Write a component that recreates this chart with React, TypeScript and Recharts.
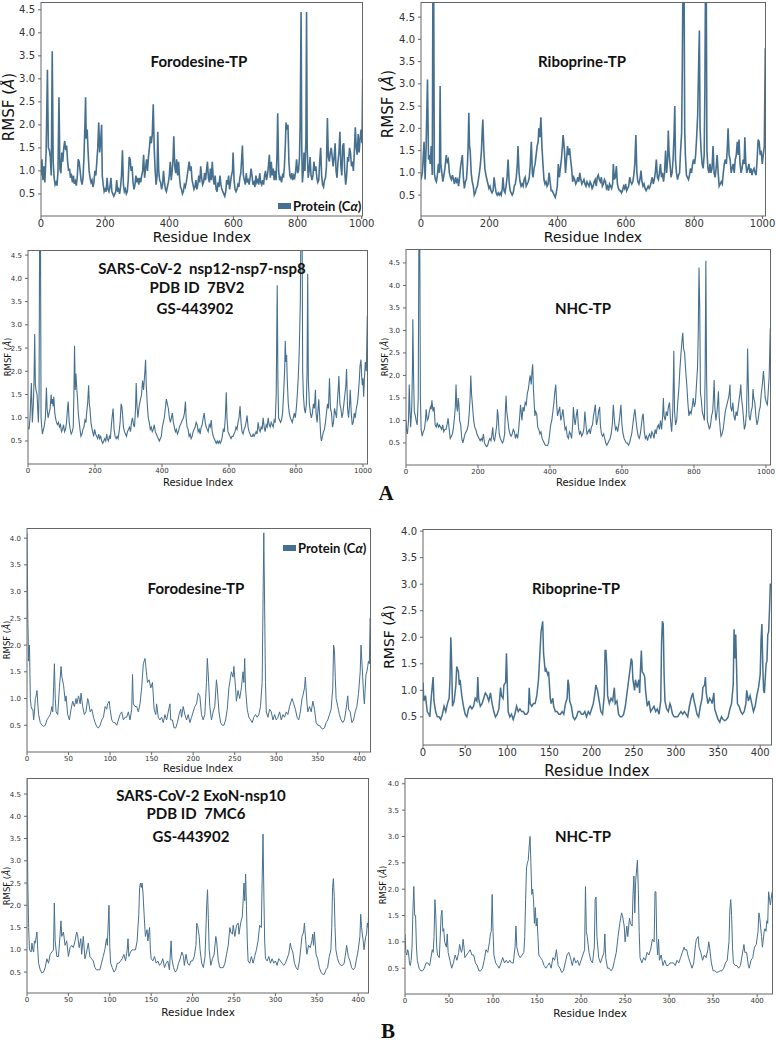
import React from "react";
import { LineChart, Line, XAxis, YAxis } from "recharts";

type Pt = [number, number];

const COLOR = "#46708f";

const TICKS_A_X = [0, 200, 400, 600, 800, 1000];
const TICKS_B_X = [0, 50, 100, 150, 200, 250, 300, 350, 400];
const TICKS_Y_45 = [0.5, 1.0, 1.5, 2.0, 2.5, 3.0, 3.5, 4.0, 4.5];
const TICKS_Y_40 = [0.5, 1.0, 1.5, 2.0, 2.5, 3.0, 3.5, 4.0];

// A: nsp12-nsp7-nsp8 complexes (values above the frame are clipped by the axis)
const A1_FORODESINE: Pt[] = [[0,0.9],[3,1.25],[6,0.8],[9,1.1],[12,0.75],[16,1.4],[20,3.2],[23,1.5],[26,1.45],[29,1.3],[32,0.9],[35,3.6],[38,1.2],[41,0.85],[44,0.7],[47,0.75],[50,0.68],[53,1.0],[56,2.6],[59,1.05],[62,0.95],[65,1.4],[68,1.2],[71,1.5],[74,1.65],[77,1.45],[80,1.55],[83,1.2],[86,1.0],[89,1.05],[92,0.85],[95,0.9],[98,0.75],[101,0.9],[104,0.72],[107,0.78],[110,0.68],[113,0.85],[116,1.25],[119,1.2],[122,1.0],[125,0.8],[128,0.7],[131,0.85],[134,1.3],[137,2.0],[139,2.6],[141,1.7],[144,1.9],[147,1.4],[150,1.0],[153,0.85],[156,0.75],[159,0.8],[162,0.65],[165,0.75],[168,1.0],[171,0.9],[174,1.2],[177,1.5],[180,2.05],[183,1.4],[186,1.65],[189,2.0],[191,0.9],[194,0.7],[197,0.55],[200,0.6],[203,0.55],[206,0.85],[209,0.6],[212,0.55],[215,0.65],[218,0.85],[221,0.55],[224,0.5],[227,0.45],[230,0.5],[233,0.55],[236,0.8],[239,0.55],[242,0.6],[245,0.5],[248,0.65],[251,0.9],[254,1.45],[257,0.7],[260,0.55],[263,0.6],[266,0.5],[269,0.55],[272,0.8],[275,1.3],[278,1.25],[281,1.0],[284,1.1],[287,0.75],[290,0.6],[293,0.7],[296,0.9],[299,0.75],[302,0.85],[305,0.7],[308,0.85],[311,0.75],[314,0.9],[317,1.0],[320,1.35],[323,0.85],[326,1.05],[329,1.25],[332,1.0],[335,1.3],[338,1.5],[341,1.75],[344,1.6],[347,1.8],[350,2.45],[353,1.5],[356,1.0],[359,0.7],[362,0.9],[364,1.85],[367,1.0],[370,0.8],[373,0.75],[376,0.6],[379,0.7],[382,1.0],[385,0.75],[388,0.6],[391,0.55],[394,0.65],[397,0.75],[400,0.9],[403,1.2],[406,0.8],[409,1.0],[412,1.3],[414,1.75],[417,1.1],[420,0.95],[423,1.25],[426,0.9],[429,1.2],[432,0.85],[435,0.65],[438,0.6],[441,0.5],[444,0.55],[447,0.7],[450,0.65],[453,0.75],[456,0.9],[459,1.05],[462,1.2],[465,1.0],[468,1.1],[471,0.8],[474,0.7],[477,0.6],[480,0.65],[483,0.8],[486,0.6],[489,0.7],[492,0.9],[495,0.75],[498,1.1],[501,0.85],[504,0.7],[507,0.75],[510,0.95],[513,0.8],[516,1.0],[519,1.2],[522,0.85],[525,0.75],[528,1.05],[531,0.8],[534,1.2],[537,0.85],[540,0.7],[543,0.9],[546,0.6],[549,0.55],[552,0.75],[555,0.65],[558,0.9],[561,0.7],[564,0.6],[567,0.55],[570,0.5],[573,0.45],[576,0.55],[579,0.8],[582,0.7],[585,0.9],[588,0.6],[591,0.75],[594,0.9],[597,1.0],[599,1.4],[602,0.8],[605,0.6],[608,0.55],[611,0.6],[614,0.7],[617,0.65],[620,0.85],[623,0.95],[626,1.3],[628,1.55],[631,0.9],[634,0.8],[637,0.7],[640,0.95],[643,0.75],[646,0.8],[649,0.7],[652,0.85],[655,1.05],[658,0.9],[661,0.7],[664,0.75],[667,0.65],[670,0.9],[673,0.75],[676,0.8],[679,0.7],[682,0.95],[685,0.75],[688,0.7],[691,0.8],[694,0.7],[697,0.9],[700,1.0],[703,0.8],[706,0.9],[709,1.1],[712,1.35],[715,0.85],[718,1.2],[721,0.9],[724,1.05],[727,0.8],[730,1.0],[733,0.8],[736,1.4],[738,2.25],[741,1.0],[744,0.8],[747,0.85],[750,0.75],[753,0.9],[756,0.85],[759,1.1],[762,1.6],[764,2.05],[767,1.9],[770,2.0],[773,1.2],[776,0.9],[779,0.85],[782,0.95],[785,0.8],[788,0.9],[791,0.85],[794,1.0],[797,1.25],[800,0.95],[803,1.0],[806,1.3],[808,2.0],[811,4.45],[813,1.5],[815,0.75],[818,1.0],[820,1.4],[823,1.0],[826,1.7],[828,4.45],[830,1.5],[833,0.85],[836,1.0],[839,1.3],[842,0.9],[845,0.8],[848,0.9],[851,1.2],[854,1.0],[857,1.1],[860,0.85],[863,0.75],[866,0.8],[869,1.2],[872,1.5],[875,0.9],[878,0.7],[881,0.65],[884,0.8],[887,0.85],[890,1.1],[893,2.15],[896,1.3],[899,1.2],[902,1.4],[905,1.5],[908,1.3],[911,1.1],[914,1.3],[917,1.6],[920,1.0],[923,0.85],[926,1.2],[929,1.4],[932,1.85],[935,1.1],[938,0.9],[941,1.55],[944,1.6],[947,1.0],[950,0.7],[953,0.9],[956,1.3],[959,1.2],[962,1.5],[965,1.4],[968,1.1],[971,1.2],[974,1.0],[977,1.4],[980,1.95],[983,1.5],[986,1.35],[989,1.8],[992,1.4],[995,1.7],[998,1.9],[1001,1.6],[1003,3.0]];

const A2_RIBOPRINE: Pt[] = [[0,0.85],[4,1.0],[9,1.7],[12,0.85],[15,1.6],[19,3.1],[22,1.3],[25,1.4],[27,1.2],[30,1.6],[33,0.95],[35,5.5],[37,5.5],[39,1.0],[42,0.85],[45,0.8],[48,0.95],[51,1.2],[54,1.0],[56,2.95],[58,1.2],[61,1.0],[64,0.8],[67,0.95],[70,1.1],[74,1.4],[77,1.25],[80,1.3],[83,1.0],[86,0.9],[89,0.85],[92,0.95],[95,0.85],[98,0.75],[101,0.9],[104,0.8],[107,0.85],[110,0.7],[113,0.9],[116,1.15],[119,1.3],[121,1.4],[124,0.9],[127,0.65],[130,0.8],[133,0.85],[136,1.2],[138,1.6],[140,2.35],[142,1.6],[144,1.5],[147,1.0],[150,0.8],[153,0.7],[156,0.5],[159,0.55],[162,0.65],[165,0.7],[168,0.85],[171,1.0],[174,1.2],[177,1.5],[179,1.9],[181,2.2],[184,1.5],[187,1.1],[190,0.95],[193,0.85],[196,0.75],[199,0.65],[202,0.7],[205,0.6],[208,0.55],[211,0.6],[214,0.9],[217,0.7],[220,0.55],[223,0.5],[226,0.55],[229,0.5],[232,0.55],[235,0.5],[238,0.65],[240,0.9],[243,0.6],[246,0.55],[249,0.7],[252,0.9],[255,1.3],[258,0.8],[261,0.6],[264,0.55],[267,0.5],[270,0.55],[273,0.7],[276,0.75],[279,0.9],[282,1.2],[284,1.6],[287,1.0],[290,0.8],[293,0.7],[296,0.75],[299,0.7],[302,0.85],[305,0.9],[308,0.7],[311,0.75],[314,0.8],[317,0.9],[320,1.2],[323,1.7],[326,1.0],[328,0.9],[331,1.1],[334,1.2],[337,1.4],[340,1.6],[343,1.7],[345,2.0],[348,1.8],[351,2.25],[354,1.6],[357,1.2],[360,0.85],[363,0.75],[366,0.8],[369,0.7],[372,0.75],[375,1.0],[378,0.8],[381,0.6],[384,0.6],[387,0.55],[390,0.5],[393,0.45],[396,0.55],[399,0.7],[402,1.2],[405,0.9],[408,1.1],[411,1.3],[414,1.6],[416,1.85],[418,1.7],[420,1.5],[423,1.0],[426,1.3],[429,1.6],[432,1.4],[435,1.55],[438,1.3],[441,1.1],[444,0.8],[447,0.9],[450,0.85],[453,0.75],[456,0.8],[459,0.9],[462,0.8],[465,1.0],[468,0.85],[471,0.75],[474,0.8],[477,0.85],[480,0.75],[483,0.7],[486,0.8],[489,0.75],[492,0.7],[495,0.8],[498,0.75],[501,0.65],[504,0.7],[507,0.8],[510,0.85],[513,0.7],[516,0.9],[519,0.95],[522,0.85],[525,0.8],[528,0.9],[531,0.7],[534,0.75],[537,0.85],[540,0.8],[543,0.65],[546,0.7],[549,0.6],[552,0.75],[555,0.7],[558,0.65],[561,0.75],[563,1.2],[566,0.85],[569,0.9],[572,1.15],[575,0.75],[578,0.65],[581,0.6],[584,0.6],[587,0.55],[590,0.6],[593,0.7],[596,0.65],[599,0.75],[602,0.6],[605,0.65],[608,0.7],[611,0.9],[614,0.8],[617,0.75],[620,0.8],[623,0.95],[626,1.2],[629,1.85],[632,1.0],[635,0.8],[638,0.75],[641,0.85],[644,1.05],[647,0.8],[650,0.7],[653,0.75],[656,0.65],[659,0.6],[662,0.65],[665,0.7],[668,0.65],[671,0.7],[674,0.8],[677,0.9],[680,0.75],[683,0.85],[686,1.0],[689,1.3],[692,0.9],[695,0.85],[698,1.0],[701,1.2],[704,0.9],[707,1.0],[710,0.8],[713,1.0],[716,1.5],[719,1.0],[722,1.3],[724,1.95],[726,1.5],[729,1.2],[732,0.9],[735,1.0],[738,1.3],[741,1.9],[743,2.5],[745,1.3],[748,1.0],[751,0.85],[754,0.95],[757,1.0],[760,1.5],[763,1.9],[765,3.4],[767,5.5],[770,5.5],[772,2.0],[774,1.4],[777,0.95],[780,0.9],[783,0.85],[786,0.95],[789,1.1],[792,1.0],[795,1.2],[798,1.3],[801,1.2],[804,1.4],[807,1.8],[810,2.3],[813,3.5],[815,4.2],[817,2.0],[820,1.5],[823,1.2],[826,1.1],[829,1.4],[831,2.8],[833,5.5],[835,5.5],[837,1.5],[840,1.1],[843,1.0],[846,1.2],[849,1.0],[852,1.1],[855,1.6],[858,1.0],[861,0.9],[864,1.1],[867,1.4],[870,1.0],[873,0.7],[876,0.75],[879,0.8],[882,0.75],[885,1.0],[888,1.2],[891,1.3],[894,1.2],[897,1.6],[899,2.0],[902,1.4],[905,1.3],[908,1.0],[911,1.1],[914,1.2],[917,1.0],[920,1.3],[923,1.4],[926,1.7],[929,1.4],[931,1.75],[934,1.2],[937,1.0],[940,1.1],[943,1.3],[946,1.2],[948,1.8],[951,1.2],[954,1.0],[957,1.1],[960,1.2],[963,1.0],[966,1.1],[969,0.95],[972,1.05],[975,1.1],[978,1.0],[981,0.95],[984,1.3],[987,1.75],[990,1.7],[993,1.4],[996,1.5],[999,1.2],[1002,1.4],[1005,1.6],[1008,3.8]];

const A3_GS443902: Pt[] = [[0,0.8],[3,0.75],[6,1.0],[10,1.75],[13,0.9],[16,1.3],[18,1.8],[20,2.8],[22,1.7],[24,1.6],[27,1.5],[29,1.2],[31,0.9],[33,1.5],[35,5.5],[37,5.5],[39,1.0],[41,0.8],[43,0.65],[46,0.75],[48,0.8],[50,0.9],[52,1.0],[55,1.65],[57,1.2],[60,1.0],[63,1.1],[66,1.2],[69,1.5],[71,1.3],[73,1.4],[75,1.25],[77,1.45],[80,1.1],[82,1.0],[85,0.9],[88,0.85],[91,0.9],[94,0.8],[97,0.85],[100,0.7],[103,0.75],[106,0.85],[109,0.7],[112,0.75],[115,0.9],[118,1.2],[120,1.35],[123,0.9],[126,0.75],[129,0.65],[132,0.7],[135,0.8],[137,1.5],[139,2.55],[141,1.6],[143,1.95],[145,1.7],[148,1.4],[150,1.1],[153,0.9],[156,0.7],[158,0.6],[161,0.65],[164,0.75],[167,0.8],[170,0.95],[173,0.9],[175,1.1],[178,1.3],[181,1.7],[183,1.3],[185,1.2],[188,0.9],[190,0.8],[193,0.7],[196,0.6],[199,0.75],[202,0.65],[205,0.6],[208,0.55],[211,0.65],[214,0.55],[217,0.6],[220,0.5],[223,0.45],[226,0.5],[229,0.55],[232,0.5],[235,0.65],[237,0.55],[240,0.5],[243,0.6],[246,0.55],[249,0.85],[251,1.0],[254,1.2],[257,0.75],[260,0.6],[263,0.55],[266,0.6],[269,0.55],[272,0.7],[275,0.9],[278,1.3],[280,1.25],[282,1.1],[285,0.8],[288,0.7],[291,0.65],[294,0.6],[297,0.7],[300,0.75],[303,0.8],[306,0.7],[309,0.9],[312,1.0],[315,0.85],[318,0.8],[321,1.2],[323,1.75],[325,1.3],[328,1.0],[331,1.2],[333,1.3],[336,1.4],[339,1.5],[342,1.8],[345,1.6],[347,1.8],[349,2.0],[351,2.25],[353,1.7],[356,1.3],[359,1.0],[362,0.9],[365,0.75],[368,0.8],[371,0.7],[374,0.75],[377,0.85],[380,0.7],[383,0.65],[386,0.6],[389,0.55],[392,0.5],[395,0.55],[398,0.6],[401,0.8],[404,0.9],[407,1.0],[410,1.2],[413,1.4],[416,1.3],[419,1.2],[422,1.0],[425,0.9],[428,1.0],[431,1.1],[434,0.9],[437,0.8],[440,0.7],[443,0.75],[446,0.65],[449,0.7],[452,0.8],[455,0.85],[458,0.9],[461,0.95],[464,1.0],[467,1.1],[470,1.35],[472,1.0],[475,0.8],[478,0.75],[481,0.6],[484,0.65],[487,0.55],[490,0.6],[493,0.7],[496,0.75],[499,0.8],[502,0.9],[505,0.85],[508,0.7],[511,0.75],[514,0.65],[517,0.8],[520,0.85],[523,1.0],[526,1.1],[529,0.9],[532,0.8],[535,0.75],[538,0.7],[541,0.85],[544,0.8],[547,0.95],[550,0.7],[553,0.6],[556,0.55],[559,0.5],[562,0.45],[565,0.5],[568,0.45],[571,0.5],[574,0.45],[577,0.5],[580,0.6],[583,0.75],[586,0.7],[589,1.0],[592,1.55],[594,1.0],[597,0.7],[600,0.65],[603,0.6],[606,0.55],[609,0.6],[612,0.6],[615,0.65],[618,0.7],[621,0.8],[624,0.75],[627,0.9],[630,1.0],[633,1.25],[636,0.9],[639,0.7],[642,0.65],[645,0.75],[648,0.8],[651,0.9],[654,1.05],[657,0.8],[660,0.7],[663,0.65],[666,0.6],[669,0.6],[672,0.65],[675,0.6],[678,0.65],[681,0.7],[684,0.65],[687,0.9],[690,0.75],[693,0.7],[696,0.8],[699,0.75],[702,1.0],[705,0.8],[708,0.7],[711,0.85],[714,0.8],[717,1.0],[720,0.85],[723,0.8],[726,0.9],[729,0.85],[732,0.8],[735,0.95],[738,0.9],[741,1.5],[744,3.85],[746,1.8],[748,1.0],[751,0.95],[754,0.9],[757,0.95],[760,1.1],[763,1.5],[766,2.0],[768,2.65],[770,2.2],[772,2.35],[774,1.8],[777,1.3],[780,1.1],[783,1.0],[786,0.95],[789,0.9],[792,1.0],[795,1.1],[798,1.0],[801,1.2],[804,1.5],[807,1.9],[810,2.5],[813,3.5],[815,5.5],[818,5.5],[820,2.0],[822,1.5],[825,1.2],[828,1.1],[831,1.3],[833,2.0],[835,4.1],[837,1.8],[840,1.3],[843,1.1],[846,1.0],[849,1.1],[852,1.3],[855,1.2],[858,1.6],[860,1.1],[863,0.9],[866,1.2],[868,1.4],[871,1.0],[874,0.6],[876,0.5],[879,0.6],[882,0.7],[885,0.75],[888,0.9],[891,1.1],[894,1.3],[897,1.2],[900,1.85],[903,1.2],[906,1.1],[909,0.8],[912,0.9],[915,1.2],[918,1.1],[921,1.0],[924,1.4],[926,1.6],[928,1.9],[931,1.3],[934,1.2],[937,1.0],[940,1.1],[943,1.3],[946,1.5],[949,1.7],[951,2.05],[954,1.2],[957,1.0],[960,1.3],[962,1.6],[965,1.1],[968,0.85],[971,0.9],[974,1.1],[977,1.0],[980,1.2],[983,1.3],[986,1.5],[989,1.8],[991,2.1],[994,2.25],[996,1.9],[998,1.7],[1000,1.85],[1002,1.45],[1004,1.8],[1007,2.2],[1010,2.0],[1013,3.2]];

const A4_NHC: Pt[] = [[0,1.0],[2,0.75],[4,0.7],[7,1.0],[9,1.8],[11,1.2],[13,0.85],[16,1.3],[18,2.2],[19,3.25],[21,2.0],[23,1.2],[26,1.1],[28,1.0],[31,0.9],[34,1.5],[36,5.5],[38,5.5],[40,1.5],[42,0.8],[45,0.65],[48,0.75],[51,0.8],[54,1.0],[56,1.25],[59,1.0],[62,1.05],[65,1.2],[68,1.3],[70,1.25],[72,1.45],[75,1.2],[78,1.3],[81,0.9],[84,0.85],[87,0.95],[90,0.85],[93,0.9],[96,0.85],[99,0.8],[102,0.9],[105,0.75],[108,0.8],[111,0.8],[114,0.9],[117,1.05],[120,0.8],[123,0.6],[126,0.65],[129,0.7],[132,0.85],[135,1.1],[137,1.3],[139,1.8],[141,1.3],[143,1.2],[145,1.5],[147,1.35],[149,1.0],[152,0.9],[155,0.6],[158,0.5],[161,0.6],[164,0.7],[167,0.75],[170,0.8],[173,0.9],[176,1.2],[178,1.5],[180,2.0],[182,1.6],[185,1.3],[188,1.0],[191,0.85],[194,0.8],[197,0.7],[200,0.65],[203,0.6],[206,0.55],[209,0.6],[212,0.55],[215,0.7],[218,0.5],[221,0.45],[224,0.42],[227,0.45],[230,0.55],[233,0.6],[236,0.55],[239,0.7],[241,0.85],[243,0.6],[246,0.55],[249,0.7],[252,0.9],[254,1.25],[256,1.1],[259,0.7],[262,0.6],[265,0.55],[268,0.5],[271,0.55],[274,0.7],[276,1.2],[278,1.55],[280,1.2],[283,1.0],[286,0.8],[289,0.7],[292,0.65],[295,0.7],[298,0.8],[301,0.75],[304,0.6],[307,0.7],[310,0.6],[313,0.8],[316,1.1],[318,1.35],[320,1.2],[322,1.0],[325,1.3],[328,1.2],[331,1.4],[334,1.35],[337,1.6],[340,1.7],[343,1.9],[345,2.0],[348,1.8],[350,2.1],[352,2.25],[354,1.7],[356,1.4],[358,1.1],[360,1.2],[363,1.15],[366,0.85],[369,0.8],[372,0.7],[375,0.75],[378,0.6],[381,0.55],[384,0.5],[387,0.45],[390,0.45],[393,0.44],[396,0.5],[399,0.7],[402,0.9],[405,1.0],[408,1.2],[411,1.4],[413,1.6],[416,1.8],[419,1.3],[421,1.1],[424,1.2],[427,1.3],[430,1.0],[433,1.1],[436,1.25],[439,1.0],[442,0.8],[445,0.85],[448,0.65],[451,0.6],[454,0.75],[457,0.7],[460,0.6],[463,0.9],[465,1.3],[468,1.0],[470,0.9],[473,1.1],[476,1.25],[479,0.85],[482,0.7],[485,0.75],[488,0.65],[491,0.7],[494,0.8],[497,1.2],[500,0.9],[503,0.7],[506,0.75],[509,0.8],[512,0.7],[515,0.85],[518,0.9],[521,1.1],[524,1.25],[526,1.35],[529,0.9],[532,1.0],[535,1.2],[538,1.3],[540,0.9],[543,0.7],[546,0.65],[549,0.7],[552,0.6],[555,0.5],[558,0.45],[561,0.5],[564,0.55],[567,0.6],[570,0.7],[573,0.9],[576,1.35],[579,1.0],[582,0.8],[585,0.85],[588,0.75],[591,0.9],[594,1.1],[597,1.35],[600,0.9],[603,0.7],[606,0.6],[609,0.55],[612,0.5],[615,0.5],[618,0.45],[621,0.5],[624,0.6],[627,0.7],[630,0.9],[633,1.1],[636,1.25],[639,1.0],[642,0.8],[645,0.65],[648,0.6],[651,0.7],[654,0.9],[657,1.1],[659,1.15],[662,0.75],[665,0.6],[668,0.65],[671,0.55],[674,0.65],[677,0.7],[680,0.6],[683,0.75],[686,0.7],[689,0.6],[692,0.8],[695,0.7],[698,0.85],[701,0.9],[704,0.8],[707,1.0],[710,0.8],[713,1.1],[715,1.5],[717,1.1],[720,1.0],[723,1.2],[726,1.1],[729,1.3],[732,1.4],[735,1.0],[738,0.75],[741,1.2],[743,2.0],[744,2.55],[746,1.2],[749,0.9],[752,1.0],[755,1.4],[758,1.7],[761,2.15],[764,2.5],[767,2.8],[769,2.95],[771,2.6],[774,2.5],[777,2.1],[780,1.8],[783,1.4],[786,1.1],[789,1.2],[792,1.15],[795,1.3],[798,1.5],[801,1.3],[804,1.4],[807,1.8],[810,2.2],[812,3.0],[814,4.4],[816,3.5],[818,1.6],[820,1.5],[823,1.2],[826,1.1],[829,1.0],[831,2.0],[833,4.55],[835,2.0],[837,1.0],[840,0.9],[843,0.8],[846,0.9],[849,1.1],[852,1.2],[854,1.5],[856,1.9],[858,1.3],[861,1.0],[864,1.2],[866,1.4],[868,1.65],[870,1.1],[873,0.8],[875,0.65],[878,0.7],[881,0.8],[884,1.0],[887,1.2],[890,1.3],[893,1.4],[896,1.5],[898,1.6],[900,1.8],[902,1.3],[905,1.2],[908,1.4],[911,1.1],[914,1.0],[917,1.2],[920,1.1],[923,1.3],[926,1.5],[928,1.6],[930,1.8],[932,1.5],[935,1.3],[938,1.0],[940,0.8],[943,0.9],[946,1.2],[948,2.0],[949,2.6],[951,1.8],[953,1.1],[956,1.0],[959,1.2],[962,1.3],[964,1.7],[966,1.5],[969,1.4],[972,1.1],[975,0.9],[978,1.0],[981,1.2],[984,1.3],[987,1.6],[990,1.8],[993,2.1],[995,1.9],[998,1.5],[1001,1.4],[1004,1.35],[1006,1.6],[1009,2.0],[1012,3.05]];

// B: ExoN-nsp10 complexes
const B1_FORODESINE: Pt[] = [[0,4.1],[1,2.5],[2,1.7],[3,2.0],[4,1.0],[5,0.85],[6,0.8],[7,0.8],[8,0.6],[9,0.75],[10,1.0],[11,1.05],[12,1.15],[13,0.9],[14,0.7],[16,0.55],[18,0.5],[20,0.48],[22,0.5],[24,0.6],[26,0.65],[28,0.7],[30,0.85],[31,0.75],[32,1.2],[33,1.65],[34,1.0],[35,0.75],[37,0.7],[39,1.2],[41,1.6],[42,1.4],[44,1.25],[46,0.95],[47,1.05],[49,0.7],[51,0.6],[53,0.8],[55,0.95],[57,0.85],[59,1.0],[60,0.9],[62,1.05],[64,0.9],[65,1.1],[67,0.85],[69,0.7],[71,0.75],[73,1.0],[74,0.95],[76,0.75],[78,0.8],[80,0.65],[82,0.55],[84,0.47],[86,0.45],[88,0.5],[90,0.6],[92,0.65],[94,0.85],[96,0.8],[97,0.9],[99,0.95],[100,0.8],[102,0.6],[104,0.55],[106,0.55],[108,0.5],[110,0.6],[112,0.7],[114,0.75],[116,0.6],[118,0.65],[120,0.65],[122,0.75],[124,0.6],[126,0.8],[127,1.45],[128,0.9],[130,0.85],[132,0.85],[134,0.75],[136,0.9],[138,1.2],[140,1.65],[142,1.75],[143,1.6],[145,1.3],[147,1.35],[149,1.2],[151,1.3],[153,0.8],[155,0.7],[156,0.9],[158,0.65],[160,0.6],[162,0.65],[164,0.55],[166,0.7],[168,0.6],[170,0.75],[172,0.9],[173,0.6],[175,0.6],[177,0.45],[179,0.45],[181,0.55],[183,0.7],[185,0.8],[186,0.65],[188,0.85],[190,0.7],[192,0.6],[194,0.7],[196,0.55],[198,0.65],[200,0.75],[202,0.85],[204,0.9],[206,1.1],[208,1.05],[210,0.7],[212,0.6],[214,0.7],[216,1.3],[217,1.75],[218,1.5],[220,0.85],[222,0.6],[224,0.75],[226,0.85],[228,1.35],[229,1.2],[231,0.75],[233,0.55],[235,0.5],[237,0.5],[239,0.6],[241,0.8],[243,1.2],[245,1.4],[246,1.5],[248,1.4],[249,1.6],[251,1.2],[252,0.95],[254,1.15],[256,1.0],[258,1.2],[260,1.5],[261,1.3],[262,1.75],[263,1.2],[265,0.8],[267,0.65],[269,0.6],[271,0.55],[273,0.65],[275,0.7],[277,0.65],[279,0.7],[281,0.85],[283,1.3],[285,4.1],[287,1.3],[288,0.75],[290,0.65],[292,0.8],[294,0.75],[296,0.6],[298,0.7],[300,0.6],[302,0.65],[304,0.75],[306,0.6],[308,0.7],[310,0.65],[312,0.75],[314,0.7],[316,0.85],[318,0.95],[319,1.0],[321,0.9],[323,0.8],[325,0.65],[327,0.6],[329,0.75],[331,1.0],[332,1.05],[334,1.2],[335,1.4],[337,0.9],[338,0.75],[340,0.85],[342,0.75],[344,0.95],[346,0.8],[348,0.55],[350,0.5],[352,0.5],[354,0.45],[356,0.43],[358,0.45],[360,0.55],[362,0.6],[364,0.7],[366,0.8],[368,1.2],[369,2.0],[370,1.9],[371,1.4],[372,1.0],[374,0.85],[376,0.7],[378,0.6],[380,0.55],[382,0.6],[384,0.8],[386,1.05],[387,0.8],[389,0.75],[391,0.55],[393,0.6],[395,0.75],[397,0.85],[399,1.1],[401,1.5],[402,2.0],[403,1.7],[405,1.1],[406,0.9],[408,1.45],[409,1.5],[410,1.6],[411,1.7],[412,1.65],[413,2.5],[414,2.3]];

const B2_RIBOPRINE: Pt[] = [[0,1.15],[1,0.8],[2,0.85],[3,0.9],[4,0.75],[5,0.6],[7,0.55],[8,0.5],[10,0.9],[12,1.25],[13,0.8],[15,0.6],[17,0.5],[19,0.5],[21,0.45],[23,0.55],[25,0.7],[27,0.6],[29,0.75],[31,0.85],[32,1.2],[33,2.0],[34,1.5],[35,0.7],[37,0.8],[39,1.1],[40,1.45],[42,1.35],[43,1.1],[44,1.2],[46,0.9],[48,0.7],[50,0.55],[52,0.5],[54,0.65],[56,0.7],[58,0.65],[60,0.7],[62,0.85],[64,0.8],[65,1.25],[66,0.85],[68,0.7],[70,0.75],[72,0.85],[74,0.95],[76,0.9],[78,0.8],[80,0.95],[82,0.75],[84,0.6],[86,0.5],[88,0.55],[90,0.65],[92,1.05],[93,0.9],[95,0.85],[96,1.1],[98,1.15],[99,1.7],[100,1.1],[101,0.6],[103,0.5],[105,0.55],[107,0.45],[109,0.55],[111,0.7],[113,0.6],[115,0.65],[117,0.6],[119,0.6],[121,0.55],[123,0.55],[125,0.6],[126,1.05],[127,0.75],[129,0.7],[131,0.75],[133,0.75],[135,0.9],[137,1.2],[139,1.8],[140,2.1],[141,2.2],[142,2.3],[143,1.7],[145,1.35],[146,1.4],[148,1.3],[149,1.35],[151,0.85],[152,0.75],[154,0.85],[155,0.7],[157,0.6],[159,0.6],[161,0.55],[163,0.55],[165,0.6],[167,0.55],[169,0.75],[171,0.85],[172,1.2],[173,1.1],[174,0.8],[176,0.7],[178,0.5],[180,0.45],[182,0.5],[184,0.6],[186,0.6],[188,0.55],[190,0.55],[192,0.6],[194,0.5],[196,0.6],[198,0.55],[200,0.65],[202,0.75],[204,0.95],[205,1.1],[207,1.0],[209,0.8],[211,0.6],[213,0.55],[215,0.9],[216,1.75],[217,1.75],[218,1.45],[219,0.9],[221,0.75],[223,0.85],[225,0.8],[227,1.05],[228,0.75],[230,0.8],[232,0.55],[234,0.5],[236,0.5],[238,0.55],[240,0.7],[242,0.95],[244,1.2],[246,1.45],[247,1.6],[248,1.55],[249,1.2],[251,1.0],[252,1.2],[254,1.05],[256,1.2],[257,0.95],[258,1.4],[259,1.75],[260,1.35],[262,1.3],[263,1.25],[264,1.0],[266,0.7],[268,0.8],[270,0.6],[272,0.65],[274,0.7],[276,0.6],[278,0.65],[280,0.55],[282,0.8],[283,1.9],[284,2.3],[285,2.25],[286,1.3],[287,0.8],[289,0.65],[291,0.6],[293,0.75],[294,0.7],[296,0.55],[298,0.5],[300,0.5],[302,0.5],[304,0.55],[306,0.6],[308,0.55],[310,0.6],[312,0.55],[314,0.5],[316,0.7],[318,0.85],[320,0.95],[321,0.85],[323,0.7],[325,0.55],[327,0.5],[329,0.7],[331,0.85],[332,1.05],[334,1.1],[335,1.25],[336,0.95],[338,0.75],[340,0.85],[342,0.8],[343,0.75],[345,0.95],[346,0.65],[348,0.55],[350,0.45],[352,0.4],[354,0.5],[356,0.45],[358,0.43],[360,0.45],[362,0.5],[364,0.65],[366,0.75],[368,1.1],[369,2.15],[370,1.6],[371,2.05],[372,1.4],[373,0.75],[375,0.7],[377,0.6],[379,0.55],[381,0.6],[383,0.75],[384,1.0],[386,0.8],[388,0.9],[390,0.75],[392,0.6],[394,0.7],[396,0.9],[398,1.05],[400,1.3],[401,1.95],[402,2.25],[403,1.5],[404,1.0],[405,0.95],[407,1.5],[408,1.55],[409,2.05],[410,2.1],[411,2.5],[412,3.0],[413,3.0]];

const B3_GS443902: Pt[] = [[0,4.85],[1,2.5],[2,1.5],[3,1.0],[5,0.95],[6,1.15],[7,1.0],[8,0.95],[9,1.2],[10,1.15],[12,1.4],[13,1.0],[14,0.7],[16,0.55],[18,0.48],[20,0.5],[22,0.6],[24,0.8],[26,0.7],[28,0.9],[30,0.95],[32,1.0],[33,2.05],[34,1.2],[36,0.85],[38,0.85],[40,1.35],[41,1.65],[42,1.3],[44,1.4],[46,1.1],[48,1.2],[50,0.85],[52,1.05],[54,1.1],[56,1.05],[58,1.2],[60,1.4],[61,1.35],[63,1.05],[65,1.25],[66,0.9],[68,1.3],[70,0.8],[72,0.95],[74,1.15],[76,0.85],[78,0.8],[80,0.75],[82,0.6],[84,0.55],[86,0.55],[88,0.55],[90,0.7],[92,0.85],[94,1.0],[96,1.25],[97,1.1],[99,2.0],[100,1.05],[101,0.7],[103,0.6],[105,0.5],[107,0.55],[109,0.7],[111,0.7],[113,0.75],[115,0.8],[117,0.9],[119,0.75],[121,1.0],[122,1.25],[123,0.85],[125,0.95],[127,1.0],[129,1.0],[131,1.0],[133,1.2],[135,1.8],[136,2.4],[137,2.5],[138,2.4],[139,2.5],[140,2.3],[142,1.6],[143,1.3],[145,1.45],[146,1.2],[148,1.5],[149,1.0],[150,0.8],[152,0.75],[154,0.85],[156,0.7],[158,0.75],[160,0.65],[162,0.7],[164,0.8],[166,0.6],[168,0.7],[170,0.75],[172,0.55],[174,1.2],[175,0.8],[177,0.6],[179,0.5],[181,0.55],[183,0.7],[185,0.8],[187,0.95],[189,0.85],[190,0.65],[192,0.9],[194,0.7],[196,0.65],[198,0.75],[200,0.75],[202,0.85],[204,1.1],[205,1.6],[206,1.55],[208,1.3],[209,1.0],[211,0.7],[213,0.6],[215,0.85],[217,2.0],[218,2.35],[219,1.7],[220,1.0],[222,0.65],[224,0.8],[226,0.9],[228,1.3],[229,1.2],[231,0.75],[233,0.6],[235,0.6],[237,0.6],[239,0.7],[241,0.9],[243,1.1],[245,1.5],[246,1.4],[248,1.35],[249,1.55],[251,1.3],[253,1.55],[255,1.6],[256,1.35],[258,1.6],[260,1.75],[261,2.1],[262,2.5],[263,2.1],[264,2.7],[265,2.0],[266,1.2],[267,0.75],[269,0.7],[271,0.85],[273,0.7],[275,0.85],[277,1.0],[279,1.2],[281,1.55],[283,1.5],[284,2.6],[285,3.6],[286,2.3],[287,1.2],[288,0.8],[290,0.75],[292,0.85],[294,0.7],[296,0.8],[298,0.7],[300,0.75],[302,0.65],[304,0.8],[306,0.75],[308,0.7],[310,0.65],[312,0.7],[314,0.8],[316,0.9],[318,1.15],[319,1.05],[321,0.95],[323,0.7],[325,0.6],[327,0.55],[329,0.75],[331,1.1],[332,1.3],[334,1.4],[335,1.6],[337,1.1],[338,0.9],[340,1.1],[342,1.05],[344,1.2],[345,1.35],[346,1.1],[347,1.4],[349,0.9],[351,0.8],[353,0.6],[355,0.5],[357,0.45],[359,0.45],[361,0.55],[363,0.6],[365,0.85],[367,1.0],[368,1.5],[369,2.4],[370,2.6],[371,2.2],[372,1.5],[373,1.0],[375,0.8],[377,0.7],[379,0.65],[381,0.65],[383,0.7],[385,0.95],[386,1.1],[388,0.85],[390,0.75],[392,0.6],[394,0.55],[396,0.6],[398,0.8],[400,1.0],[402,1.3],[403,1.8],[404,1.5],[406,1.2],[407,1.0],[409,1.3],[410,1.35],[411,1.6],[412,1.5],[413,2.15]];

const B4_NHC: Pt[] = [[0,1.15],[1,0.8],[2,0.75],[3,0.85],[4,0.8],[5,0.6],[6,0.55],[7,0.65],[8,0.9],[9,1.6],[10,2.05],[11,1.5],[12,1.5],[13,0.9],[14,0.65],[16,0.5],[18,0.45],[20,0.45],[22,0.5],[24,0.6],[26,0.6],[28,0.55],[30,0.75],[31,0.85],[32,0.8],[33,1.1],[34,1.8],[35,1.5],[36,0.9],[37,0.75],[39,0.7],[41,1.5],[42,1.6],[43,1.2],[44,1.25],[45,1.0],[47,0.9],[48,1.15],[49,0.8],[51,0.65],[53,0.5],[55,0.6],[57,0.75],[59,0.65],[61,0.8],[62,0.95],[64,0.8],[65,0.85],[66,1.05],[67,0.9],[68,0.7],[70,0.75],[72,0.8],[74,0.85],[76,0.75],[78,0.75],[80,0.6],[82,0.55],[84,0.45],[86,0.45],[88,0.5],[90,0.65],[92,0.85],[94,0.8],[96,1.0],[97,1.15],[98,1.2],[99,1.9],[100,1.2],[101,0.75],[103,0.6],[105,0.55],[107,0.5],[109,0.6],[111,0.7],[113,0.6],[115,0.65],[117,0.6],[119,0.65],[121,0.6],[123,0.6],[125,0.9],[126,1.3],[127,0.9],[129,0.75],[131,0.7],[133,0.75],[135,0.8],[136,1.1],[137,1.8],[138,2.4],[139,2.5],[140,2.55],[141,2.8],[142,3.0],[143,2.5],[144,1.9],[145,2.0],[146,1.8],[147,1.35],[148,1.65],[149,1.3],[150,1.45],[151,1.1],[152,0.75],[154,0.7],[156,0.65],[158,0.55],[160,0.5],[162,0.55],[164,0.6],[166,0.5],[168,0.7],[170,0.65],[172,0.85],[174,0.55],[176,0.5],[178,0.42],[180,0.45],[182,0.6],[184,0.75],[186,0.8],[188,0.7],[190,0.55],[192,0.7],[194,0.6],[196,0.65],[198,0.55],[200,0.65],[202,0.75],[204,0.85],[205,2.05],[206,1.2],[207,1.1],[209,0.8],[211,0.65],[213,0.6],[215,0.9],[216,1.8],[217,1.85],[218,1.1],[220,0.7],[222,0.6],[224,0.7],[226,0.8],[227,1.15],[228,0.7],[230,0.5],[232,0.5],[234,0.45],[236,0.5],[238,0.65],[240,0.8],[242,1.1],[244,1.35],[246,1.55],[247,1.5],[249,1.3],[250,1.0],[252,1.3],[253,1.1],[255,1.45],[256,1.35],[258,1.3],[259,1.9],[260,2.25],[261,1.55],[262,2.15],[264,2.55],[265,2.0],[266,1.2],[267,0.7],[269,0.6],[271,0.7],[273,0.65],[275,0.8],[277,0.75],[279,0.85],[281,1.05],[283,1.0],[284,1.95],[285,1.95],[286,1.0],[287,0.75],[288,1.05],[289,0.65],[291,0.75],[293,0.55],[295,0.65],[297,0.55],[299,0.55],[301,0.6],[303,0.6],[305,0.6],[307,0.55],[309,0.65],[311,0.6],[313,0.7],[315,0.8],[317,0.9],[318,0.85],[320,0.85],[322,0.7],[324,0.6],[326,0.5],[328,0.6],[330,0.95],[331,1.05],[333,1.1],[334,0.9],[336,0.8],[338,0.65],[340,0.75],[342,0.7],[344,0.85],[345,1.0],[346,0.9],[348,0.6],[350,0.45],[352,0.45],[354,0.42],[356,0.43],[358,0.45],[360,0.45],[362,0.5],[364,0.6],[366,0.65],[368,1.0],[369,1.6],[370,1.8],[371,1.5],[372,0.9],[373,0.6],[375,0.55],[377,0.55],[379,0.5],[381,0.55],[383,0.75],[385,0.95],[386,0.8],[388,0.8],[390,0.55],[391,0.5],[393,0.65],[395,0.7],[397,0.9],[399,0.95],[401,1.2],[402,1.55],[403,1.45],[405,1.1],[406,0.9],[408,1.2],[409,1.25],[410,1.2],[411,1.4],[412,1.35],[413,1.95],[415,1.7],[417,1.95]];

type PanelProps = {
  pts: Pt[];
  L: number; T: number; R: number; B: number;
  xMax: number; yMin: number; yMax: number;
  xTicks: number[]; yTicks: number[];
  tickFont: number; sw: number;
};

function Panel({ pts, L, T, R, B, xMax, yMin, yMax, xTicks, yTicks, tickFont, sw }: PanelProps) {
  const yW = 44;
  const xH = 30;
  const rPad = 16;
  const tPad = 8;
  const w = R - L + yW + rPad;
  const h = B - T + xH + tPad;
  const data = pts.map(([x, y]) => ({ x, y }));
  const tickStyle = { fontSize: tickFont, fill: "#333", fontFamily: "DejaVu Sans" };
  return (
    <>
      <div style={{ position: "absolute", left: L - yW, top: T - tPad, width: w, height: h }}>
        <LineChart width={w} height={h} data={data} margin={{ top: tPad, right: rPad, bottom: 0, left: 0 }}>
          <XAxis
            type="number"
            dataKey="x"
            domain={[0, xMax]}
            ticks={xTicks}
            interval={0}
            allowDataOverflow
            height={xH}
            tickSize={3}
            tickMargin={1}
            stroke="#666"
            tick={tickStyle}
          />
          <YAxis
            type="number"
            domain={[yMin, yMax]}
            ticks={yTicks}
            interval={0}
            allowDataOverflow
            width={yW}
            tickSize={3}
            tickMargin={3}
            stroke="#666"
            tick={tickStyle}
            tickFormatter={(v: number) => v.toFixed(1)}
          />
          <Line
            type="linear"
            dataKey="y"
            dot={false}
            stroke={COLOR}
            strokeWidth={sw}
            isAnimationActive={false}
          />
        </LineChart>
      </div>
      <div
        style={{
          position: "absolute",
          left: L,
          top: T,
          width: R - L,
          height: B - T,
          borderTop: "1px solid #666",
          borderRight: "1px solid #666",
          boxSizing: "border-box",
          pointerEvents: "none",
        }}
      />
    </>
  );
}

function Txt({ x, y, size, children, bold, rotate, family, pre }: any) {
  return (
    <div
      style={{
        position: "absolute",
        left: x,
        top: y,
        transform: `translate(-50%, -50%)${rotate ? " rotate(-90deg)" : ""}`,
        fontSize: size,
        fontWeight: bold ? 700 : 400,
        fontFamily: family || "DejaVu Sans",
        whiteSpace: pre ? "pre" : "nowrap",
        color: "#111",
        lineHeight: 1,
      }}
    >
      {children}
    </div>
  );
}

const TITLE_FONT = "Lato";

function RmsfLabel({ x, y, size }: { x: number; y: number; size: number }) {
  return (
    <Txt x={x} y={y} size={size} rotate>
      RMSF (<i>Å</i>)
    </Txt>
  );
}

function Legend({ x, y }: { x: number; y: number }) {
  return (
    <div style={{ position: "absolute", left: x, top: y - 8, height: 16, display: "flex", alignItems: "center", fontFamily: TITLE_FONT, fontWeight: 700, fontSize: 13, color: "#111", whiteSpace: "nowrap" }}>
      <span style={{ display: "inline-block", width: 13, height: 6, background: COLOR, marginRight: 2 }} />
      <span>Protein (C<i>α</i>)</span>
    </div>
  );
}

export default function App() {
  return (
    <div style={{ position: "absolute", left: 0, top: 0, width: 776, height: 1041, background: "#fff", overflow: "hidden" }}>
      {/* A1 */}
      <Panel pts={A1_FORODESINE} L={41} T={2} R={363} B={216} xMax={1004} yMin={0.02} yMax={4.67} xTicks={TICKS_A_X} yTicks={TICKS_Y_45} tickFont={10} sw={1.6} />
      <RmsfLabel x={9} y={107} size={15} />
      <Txt x={202} y={237} size={14}>Residue Index</Txt>
      <Txt x={199} y={61} size={15} bold family={TITLE_FONT}>Forodesine-TP</Txt>
      <Legend x={278} y={206} />

      {/* A2 */}
      <Panel pts={A2_RIBOPRINE} L={421} T={2} R={766} B={216} xMax={1010} yMin={0.03} yMax={4.84} xTicks={TICKS_A_X} yTicks={TICKS_Y_45} tickFont={10} sw={1.6} />
      <RmsfLabel x={388} y={104} size={15} />
      <Txt x={593} y={237} size={14}>Residue Index</Txt>
      <Txt x={582} y={61} size={15} bold family={TITLE_FONT}>Riboprine-TP</Txt>

      {/* A3 */}
      <Panel pts={A3_GS443902} L={28} T={250} R={368} B={464} xMax={1015} yMin={0.005} yMax={4.61} xTicks={TICKS_A_X} yTicks={TICKS_Y_45} tickFont={7} sw={1.1} />
      <RmsfLabel x={8} y={357} size={8.5} />
      <Txt x={198} y={483} size={10}>Residue Index</Txt>
      <Txt x={202} y={268} size={15} bold family={TITLE_FONT} pre>{"SARS-CoV-2  nsp12-nsp7-nsp8"}</Txt>
      <Txt x={197} y={287} size={15} bold family={TITLE_FONT} pre>{"PDB ID  7BV2"}</Txt>
      <Txt x={195} y={308} size={15} bold family={TITLE_FONT}>GS-443902</Txt>

      {/* A4 */}
      <Panel pts={A4_NHC} L={406} T={249} R={771} B={465} xMax={1014} yMin={0.01} yMax={4.81} xTicks={TICKS_A_X} yTicks={TICKS_Y_45} tickFont={7} sw={1.1} />
      <RmsfLabel x={385} y={357} size={8.5} />
      <Txt x={591} y={483} size={10}>Residue Index</Txt>
      <Txt x={583} y={308} size={15} bold family={TITLE_FONT}>NHC-TP</Txt>

      <Txt x={386} y={493} size={21} bold family="Liberation Serif">A</Txt>

      {/* B1 */}
      <Panel pts={B1_FORODESINE} L={27} T={528} R={371} B={752} xMax={414} yMin={0} yMax={4.19} xTicks={TICKS_B_X} yTicks={TICKS_Y_40} tickFont={7} sw={1.0} />
      <RmsfLabel x={7} y={640} size={8.5} />
      <Txt x={198} y={769} size={10}>Residue Index</Txt>
      <Txt x={196} y={588} size={15} bold family={TITLE_FONT}>Forodesine-TP</Txt>
      <Legend x={283} y={548} />

      {/* B2 */}
      <Panel pts={B2_RIBOPRINE} L={423} T={529} R={772} B={745} xMax={414} yMin={-0.03} yMax={4.04} xTicks={TICKS_B_X} yTicks={TICKS_Y_40} tickFont={10} sw={1.5} />
      <RmsfLabel x={389} y={637} size={14} />
      <Txt x={597} y={771} size={15}>Residue Index</Txt>
      <Txt x={576} y={588} size={15} bold family={TITLE_FONT}>Riboprine-TP</Txt>

      {/* B3 */}
      <Panel pts={B3_GS443902} L={27} T={778} R={369} B={993} xMax={413} yMin={0.03} yMax={4.86} xTicks={TICKS_B_X} yTicks={TICKS_Y_45} tickFont={7} sw={1.0} />
      <RmsfLabel x={7} y={886} size={8.5} />
      <Txt x={198} y={1012} size={10.5}>Residue Index</Txt>
      <Txt x={201} y={795} size={15} bold family={TITLE_FONT}>SARS-CoV-2 ExoN-nsp10</Txt>
      <Txt x={196} y={813} size={15} bold family={TITLE_FONT} pre>{"PDB ID  7MC6"}</Txt>
      <Txt x={191} y={836} size={15} bold family={TITLE_FONT}>GS-443902</Txt>

      {/* B4 */}
      <Panel pts={B4_NHC} L={405} T={778} R={773} B={994} xMax={418} yMin={0.01} yMax={4.11} xTicks={TICKS_B_X} yTicks={TICKS_Y_40} tickFont={7} sw={1.0} />
      <RmsfLabel x={383} y={885} size={8.5} />
      <Txt x={590} y={1013} size={10.5}>Residue Index</Txt>
      <Txt x={583} y={836} size={15} bold family={TITLE_FONT}>NHC-TP</Txt>

      <Txt x={388} y={1031} size={21} bold family="Liberation Serif">B</Txt>
    </div>
  );
}
